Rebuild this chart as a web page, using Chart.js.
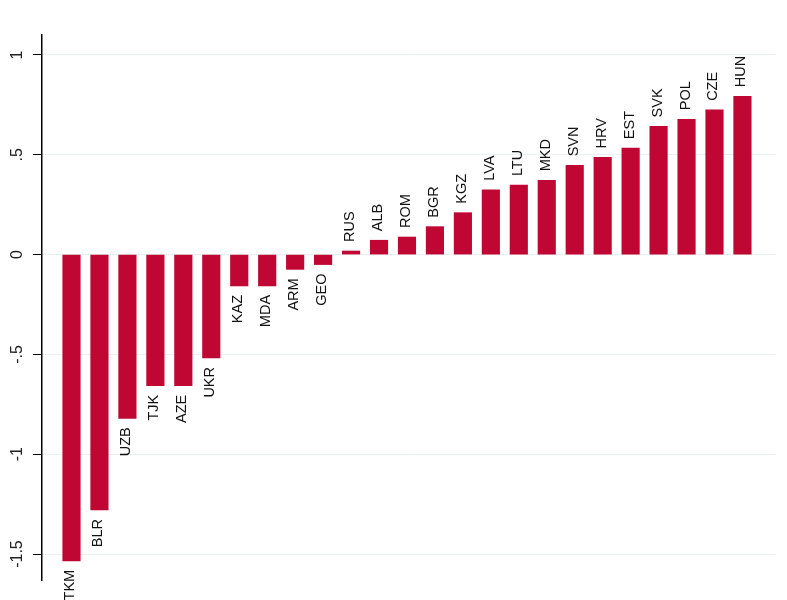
<!DOCTYPE html>
<html>
<head>
<meta charset="utf-8">
<script src="https://cdn.jsdelivr.net/npm/chart.js@4/dist/chart.umd.min.js"></script>
<style>
    html, body { margin: 0; padding: 0; background: #fff; }
    #wrap { width: 787px; height: 600px; }
</style>
</head>
<body>
<div id="wrap"><canvas id="chart"></canvas></div>
<script>
// country codes, sorted by value
const countries = ['TKM', 'BLR', 'UZB', 'TJK', 'AZE', 'UKR', 'KAZ', 'MDA', 'ARM', 'GEO',
    'RUS', 'ALB', 'ROM', 'BGR', 'KGZ', 'LVA', 'LTU', 'MKD', 'SVN', 'HRV',
    'EST', 'SVK', 'POL', 'CZE', 'HUN'];
const values = [-1.534, -1.279, -0.82, -0.657, -0.657, -0.518, -0.157, -0.157, -0.074, -0.05,
    0.018, 0.072, 0.088, 0.14, 0.21, 0.325, 0.348, 0.372, 0.447, 0.487,
    0.533, 0.642, 0.678, 0.725, 0.793];
const yTickValues = [-1.5, -1, -0.5, 0, 0.5, 1];
const yTickLabels = ['-1.5', '-1', '-.5', '0', '.5', '1'];

const barColor = '#c00633';
const labelFont = "14.5px 'Liberation Sans', Arial, sans-serif";
const tickFont = "16px 'Liberation Sans', Arial, sans-serif";

// bar name labels, rotated, above or below each bar
const barLabels = {
    id: 'barLabels',
    afterDatasetsDraw(chart) {
        const ctx = chart.ctx;
        const meta = chart.getDatasetMeta(0);
        ctx.save();
        ctx.font = labelFont;
        ctx.fillStyle = '#111';
        ctx.textBaseline = 'middle';
        meta.data.forEach((bar, i) => {
            ctx.save();
            if (values[i] >= 0) {
                ctx.translate(bar.x - 1, bar.y - 9);
                ctx.rotate(-Math.PI / 2);
                ctx.textAlign = 'left';
            } else {
                ctx.translate(bar.x - 1, bar.y + 9);
                ctx.rotate(-Math.PI / 2);
                ctx.textAlign = 'right';
            }
            ctx.fillText(countries[i], 0, 0);
            ctx.restore();
        });
        ctx.restore();
    }
};

// rotated y tick labels
const yLabels = {
    id: 'yLabels',
    afterDraw(chart) {
        const ctx = chart.ctx;
        const scale = chart.scales.y;
        ctx.save();
        ctx.font = tickFont;
        ctx.fillStyle = '#222';
        ctx.textAlign = 'center';
        ctx.textBaseline = 'middle';
        yTickValues.forEach((v, i) => {
            ctx.save();
            ctx.translate(18, scale.getPixelForValue(v));
            ctx.rotate(-Math.PI / 2);
            ctx.fillText(yTickLabels[i], 0, 0);
            ctx.restore();
        });
        ctx.restore();
    }
};

new Chart(document.getElementById('chart'), {
    type: 'bar',
    data: {
        datasets: [{
            data: values.map((v, i) => ({ x: i + 1, y: v })),
            backgroundColor: barColor,
            borderWidth: 0,
            barThickness: 17.5
        }]
    },
    options: {
        responsive: true,
        maintainAspectRatio: false,
        animation: false,
        layout: { padding: { top: 35, bottom: 20, right: 11, left: 0 } },
        plugins: {
            legend: { display: false },
            tooltip: { enabled: false }
        },
        scales: {
            x: {
                type: 'linear',
                display: false,
                min: -0.055,
                max: 26.2,
                offset: false
            },
            y: {
                min: -1.63,
                max: 1.1,
                afterBuildTicks: (scale) => {
                    scale.ticks = yTickValues.map(v => ({ value: v }));
                },
                afterFit: (scale) => { scale.width = 42; },
                border: { display: true, color: '#000', width: 1.5 },
                grid: {
                    color: '#e9f0f2',
                    tickColor: '#000',
                    tickLength: 9,
                    lineWidth: 1
                },
                ticks: { display: false }
            }
        }
    },
    plugins: [barLabels, yLabels]
});
</script>
</body>
</html>
